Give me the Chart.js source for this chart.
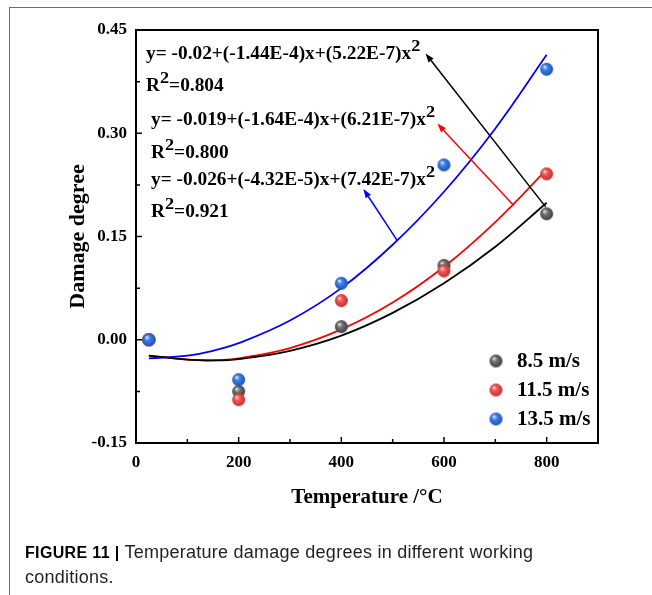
<!DOCTYPE html>
<html>
<head>
<meta charset="utf-8">
<script src="https://cdn.jsdelivr.net/npm/chart.js@4.4.1/dist/chart.umd.min.js"></script>
<style>
html,body{margin:0;padding:0;background:#fff;}
#wrap{position:relative;width:652px;height:595px;overflow:hidden;background:#fff;}
#c{position:absolute;left:0;top:0;}
#bl{position:absolute;left:9px;top:7px;width:1px;height:588px;background:#6e6e6e;}
#bt{position:absolute;left:9px;top:7px;width:643px;height:1px;background:#6e6e6e;}
#cap{position:absolute;left:25px;top:540px;font-family:"Liberation Sans",Arial,sans-serif;font-size:18px;letter-spacing:0.25px;line-height:25px;color:#231f20;white-space:nowrap;}
#cap b{color:#000;font-size:16px;letter-spacing:0.35px;}
</style>
</head>
<body>
<div id="wrap">
<canvas id="c" width="652" height="595"></canvas>
<div id="bl"></div><div id="bt"></div>
<div id="cap"><b>FIGURE 11 |</b> Temperature damage degrees in different working<br>conditions.</div>
</div>
<script>
// ---- data ----
const temps = [25, 200, 400, 600, 800];
const dmg85 = [0.000, -0.075, 0.019, 0.108, 0.183];
const dmg115 = [0.000, -0.087, 0.057, 0.100, 0.241];
const dmg135 = [0.000, -0.058, 0.082, 0.254, 0.393];

// fitted curves
const fitX = [25, 100, 150, 200, 300, 400, 500, 600, 700, 800];
const fit85 = [-0.023, -0.029, -0.030, -0.028, -0.016, 0.006, 0.039, 0.082, 0.135, 0.199];
const fit115 = [-0.023, -0.029, -0.030, -0.027, -0.012, 0.015, 0.054, 0.106, 0.171, 0.247];
const fit135 = [-0.027, -0.023, -0.016, -0.005, 0.028, 0.075, 0.138, 0.215, 0.307, 0.414];

const seriesNames = ['8.5 m/s', '11.5 m/s', '13.5 m/s'];
const xTicks = [0, 200, 400, 600, 800];
const yTicks = [-0.15, 0.00, 0.15, 0.30, 0.45];
const eqTexts = [
  'y= -0.02+(-1.44E-4)x+(5.22E-7)x^2', 'R^2=0.804',
  'y= -0.019+(-1.64E-4)x+(6.21E-7)x^2', 'R^2=0.800',
  'y= -0.026+(-4.32E-5)x+(7.42E-7)x^2', 'R^2=0.921'
];

const SERIF = '"Liberation Serif","Times New Roman",serif';

function sphere(r, light, base, dark) {
  const s = Math.ceil(r * 2 + 2);
  const c = document.createElement('canvas');
  c.width = s; c.height = s;
  const g = c.getContext('2d');
  const cx = s / 2, cy = s / 2;
  const grad = g.createRadialGradient(cx - r * 0.35, cy - r * 0.4, r * 0.05, cx, cy, r * 1.05);
  grad.addColorStop(0, light);
  grad.addColorStop(0.35, base);
  grad.addColorStop(1, dark);
  g.fillStyle = grad;
  g.beginPath(); g.arc(cx, cy, r, 0, Math.PI * 2); g.fill();
  return c;
}
const balls = [
  sphere(6.5, '#e6e6e6', '#737373', '#3c3c3c'),
  sphere(6.5, '#ffd0d0', '#f05a5a', '#c42a2a'),
  sphere(6.5, '#e0ecff', '#3f83e6', '#1a4cb2')
];
const lineColors = ['#000000', '#ff0000', '#0000ff'];

const pts = (xs, ys) => xs.map((x, i) => ({x: x, y: ys[i]}));

const decor = {
  id: 'decor',
  afterDatasetsDraw(chart) {
    const ctx = chart.ctx;
    const a = chart.chartArea;
    const xs = chart.scales.x, ys = chart.scales.y;
    ctx.save();
    // frame
    ctx.strokeStyle = '#000'; ctx.lineWidth = 2;
    ctx.strokeRect(a.left, a.top, a.right - a.left, a.bottom - a.top);
    // inside ticks
    ctx.lineWidth = 1.5;
    ctx.beginPath();
    xTicks.forEach(v => { const p = xs.getPixelForValue(v); ctx.moveTo(p, a.bottom); ctx.lineTo(p, a.bottom - 6); });
    for (let i = 0; i < xTicks.length; i++) {
      const v = xTicks[i] + (xTicks[1] - xTicks[0]) / 2;
      if (v < xs.max) { const p = xs.getPixelForValue(v); ctx.moveTo(p, a.bottom); ctx.lineTo(p, a.bottom - 4); }
    }
    yTicks.forEach(v => { const p = ys.getPixelForValue(v); ctx.moveTo(a.left, p); ctx.lineTo(a.left + 6, p); });
    for (let i = 0; i < yTicks.length - 1; i++) {
      const v = (yTicks[i] + yTicks[i + 1]) / 2;
      const p = ys.getPixelForValue(v); ctx.moveTo(a.left, p); ctx.lineTo(a.left + 4, p);
    }
    ctx.stroke();

    // arrows
    const arrows = [
      {from: [798, 0.193], to: [564, 0.416], color: '#000000'},
      {from: [736, 0.195], to: [587, 0.314], color: '#ff0000'},
      {from: [509, 0.144], to: [443, 0.219], color: '#0000ff'}
    ];
    arrows.forEach(ar => {
      const x1 = xs.getPixelForValue(ar.from[0]), y1 = ys.getPixelForValue(ar.from[1]);
      const x2 = xs.getPixelForValue(ar.to[0]), y2 = ys.getPixelForValue(ar.to[1]);
      const ang = Math.atan2(y2 - y1, x2 - x1);
      const L = 9, W = 3.2;
      const bx = x2 - L * Math.cos(ang), by = y2 - L * Math.sin(ang);
      ctx.strokeStyle = ar.color; ctx.fillStyle = ar.color; ctx.lineWidth = 1.5;
      ctx.beginPath(); ctx.moveTo(x1, y1); ctx.lineTo(bx, by); ctx.stroke();
      ctx.beginPath(); ctx.moveTo(x2, y2);
      ctx.lineTo(bx - W * Math.sin(ang), by + W * Math.cos(ang));
      ctx.lineTo(bx + W * Math.sin(ang), by - W * Math.cos(ang));
      ctx.closePath(); ctx.fill();
    });

    // equations
    const SX = 1.075;
    const eqPos = [[10, 29], [10, 61], [15, 95], [15, 128], [15, 155], [15, 187]];
    ctx.fillStyle = '#000';
    ctx.textBaseline = 'alphabetic';
    ctx.textAlign = 'left';
    const put = (txt, x, y, size) => {
      ctx.font = 'bold ' + size + 'px ' + SERIF;
      ctx.save(); ctx.translate(x, y); ctx.scale(SX, 1); ctx.fillText(txt, 0, 0); ctx.restore();
      return ctx.measureText(txt).width * SX;
    };
    eqTexts.forEach((t, i) => {
      let x = a.left + eqPos[i][0];
      const y = a.top + eqPos[i][1];
      t.split('^').forEach((p, j) => {
        let txt = p;
        if (j > 0) {
          x += put(p.charAt(0), x, y - 8, 17);
          txt = p.slice(1);
        }
        if (txt) x += put(txt, x, y, 18);
      });
    });

    // legend
    ctx.font = 'bold 21px ' + SERIF;
    ctx.textBaseline = 'middle';
    seriesNames.forEach((n, i) => {
      const cy = a.bottom - 82 + i * 29;
      const b = balls[i];
      ctx.drawImage(b, a.right - 102 - b.width / 2, cy - b.height / 2);
      ctx.fillText(n, a.right - 81, cy + 1);
    });
    ctx.restore();
  }
};

new Chart(document.getElementById('c'), {
  type: 'scatter',
  data: {
    datasets: [
      {type: 'line', data: pts(fitX, fit85), borderColor: lineColors[0], borderWidth: 1.8, pointRadius: 0, tension: 0.4, fill: false, order: 5},
      {type: 'line', data: pts(fitX, fit115), borderColor: lineColors[1], borderWidth: 1.8, pointRadius: 0, tension: 0.4, fill: false, order: 5},
      {type: 'line', data: pts(fitX, fit135), borderColor: lineColors[2], borderWidth: 1.8, pointRadius: 0, tension: 0.4, fill: false, order: 5},
      {label: seriesNames[0], data: pts(temps, dmg85), pointStyle: balls[0], order: 3},
      {label: seriesNames[1], data: pts(temps, dmg115), pointStyle: balls[1], order: 2},
      {label: seriesNames[2], data: pts(temps, dmg135), pointStyle: balls[2], order: 1}
    ]
  },
  options: {
    responsive: false,
    animation: false,
    layout: {padding: {left: 0, right: 54, top: 30, bottom: 0}},
    plugins: {legend: {display: false}, tooltip: {enabled: false}},
    scales: {
      x: {
        type: 'linear', min: 0, max: 900,
        afterBuildTicks: s => { s.ticks = xTicks.map(v => ({value: v})); },
        afterFit: s => { s.height = 152; },
        grid: {display: false, drawTicks: false},
        border: {display: false},
        ticks: {color: '#000', font: {family: SERIF, size: 17, weight: 'bold'}, padding: 9, maxRotation: 0, autoSkip: false, callback: v => String(v)},
        title: {display: true, text: 'Temperature /°C', color: '#000', font: {family: SERIF, size: 21, weight: 'bold'}, padding: {top: 0, bottom: 85}}
      },
      y: {
        type: 'linear', min: -0.15, max: 0.45,
        afterBuildTicks: s => { s.ticks = yTicks.map(v => ({value: v})); },
        afterFit: s => { s.width = 136; },
        grid: {display: false, drawTicks: false},
        border: {display: false},
        ticks: {color: '#000', font: {family: SERIF, size: 17, weight: 'bold'}, padding: 9, autoSkip: false, callback: v => v.toFixed(2)},
        title: {display: true, text: 'Damage degree', color: '#000', font: {family: SERIF, size: 22, weight: 'bold'}, padding: {top: 65, bottom: 0}}
      }
    }
  },
  plugins: [decor]
});
</script>
</body>
</html>
